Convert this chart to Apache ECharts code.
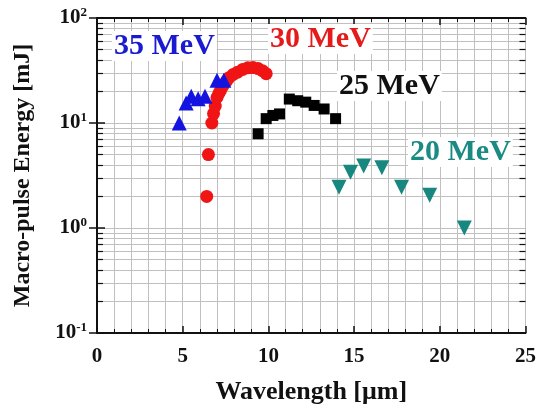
<!DOCTYPE html>
<html>
<head>
<meta charset="utf-8">
<script src="https://cdn.jsdelivr.net/npm/echarts@6/dist/echarts.min.js"></script>
<style>
  html, body { margin: 0; padding: 0; background: #fff; }
  #chart { width: 539px; height: 410px; }
</style>
</head>
<body>
<div id="chart"></div>
<script>
// Macro-pulse energy vs. wavelength for four electron beam energies
const mev35 = [[4.8, 10], [5.2, 15.5], [5.5, 18], [5.9, 17], [6.3, 18], [7.0, 25.5], [7.4, 25.5]];
const mev30 = [[6.4, 2], [6.5, 5], [6.7, 10], [6.8, 12.3], [6.9, 14.5], [7.0, 17.5], [7.1, 19],
  [7.2, 20.3], [7.35, 22.5], [7.55, 25], [7.7, 27], [7.95, 29], [8.2, 30.5], [8.5, 32.4],
  [8.8, 33.5], [9.1, 33.7], [9.4, 33], [9.65, 31.5], [9.87, 29.5]];
const mev25 = [[9.4, 7.9], [9.87, 11], [10.26, 11.8], [10.65, 12.2], [11.22, 16.9], [11.71, 16.3],
  [12.18, 15.8], [12.67, 14.7], [13.25, 13.6], [13.92, 11]];
const mev20 = [[14.12, 2.45], [14.79, 3.4], [15.56, 3.9], [16.62, 3.75], [17.77, 2.45], [19.41, 2.05], [21.43, 1.0]];

const seriesNames = ['35 MeV', '30 MeV', '25 MeV', '20 MeV'];
const xTicks = [0, 5, 10, 15, 20, 25];
const yDecades = [0.1, 1, 10, 100];

const SERIF = "'Liberation Serif', 'Times New Roman', serif";
const GRID_COLOR = '#c0c0c0';
const LABEL_FONT = "bold 30px 'Liberation Serif', 'Times New Roman', serif";

// log-spaced minor values (2..9 in every decade)
const minorVals = [];
for (let d = 0; d < yDecades.length - 1; d++) {
  for (let k = 2; k <= 9; k++) minorVals.push(+(yDecades[d] * k).toPrecision(3));
}

const gridLines = minorVals.map(v => ({ yAxis: v }));
const tickLen = 0.35;
const yTicks = [];
minorVals.forEach(v => {
  yTicks.push([{ coord: [0, v] }, { coord: [tickLen, v] }]);
  yTicks.push([{ coord: [25 - tickLen, v] }, { coord: [25, v] }]);
});

const chart = echarts.init(document.getElementById('chart'));
chart.setOption({
  animation: false,
  grid: { left: 97, right: 9, top: 18, bottom: 73 },
  xAxis: [{
    type: 'value', min: 0, max: 25, interval: 5,
    name: 'Wavelength [\u03bcm]', nameLocation: 'middle', nameGap: 46,
    nameTextStyle: { fontFamily: SERIF, fontWeight: 'bold', fontSize: 26, color: '#111' },
    axisLine: { lineStyle: { color: '#111', width: 2 } },
    axisTick: { inside: true, length: 7, lineStyle: { color: '#111', width: 1.5 } },
    minorTick: { show: true, splitNumber: 5, length: 4, lineStyle: { color: '#111' } },
    splitLine: { show: true, lineStyle: { color: GRID_COLOR, width: 1 } },
    minorSplitLine: { show: true, lineStyle: { color: GRID_COLOR, width: 1 } },
    axisLabel: { fontFamily: SERIF, fontWeight: 'bold', fontSize: 21, color: '#111', margin: 13,
      formatter: v => xTicks.includes(v) ? String(v) : '' }
  }, {
    type: 'value', min: 0, max: 25, interval: 5, position: 'top',
    axisLine: { lineStyle: { color: '#111', width: 2 } },
    axisTick: { inside: true, length: 7, lineStyle: { color: '#111', width: 1.5 } },
    minorTick: { show: true, splitNumber: 5, length: 4, lineStyle: { color: '#111' } },
    splitLine: { show: false }, axisLabel: { show: false }
  }],
  yAxis: [{
    type: 'log', min: 0.1, max: 100, logBase: 10,
    name: 'Macro-pulse Energy [mJ]', nameLocation: 'middle', nameGap: 62, nameRotate: 90,
    nameTextStyle: { fontFamily: SERIF, fontWeight: 'bold', fontSize: 24, color: '#111' },
    axisLine: { show: true, lineStyle: { color: '#111', width: 2 } },
    axisTick: { show: true, inside: true, length: 8, lineStyle: { color: '#111', width: 1.5 } },
    splitLine: { show: true, lineStyle: { color: GRID_COLOR, width: 1 } },
    axisLabel: {
      margin: 10, color: '#111',
      formatter: v => '{b|10}{s|' + Math.round(Math.log10(v)) + '}',
      rich: {
        b: { fontFamily: SERIF, fontWeight: 'bold', fontSize: 21, color: '#111' },
        s: { fontFamily: SERIF, fontWeight: 'bold', fontSize: 13, color: '#111', padding: [0, 0, 11, 0] }
      }
    }
  }, {
    type: 'log', min: 0.1, max: 100, logBase: 10, position: 'right',
    axisLine: { show: true, lineStyle: { color: '#111', width: 2 } },
    axisTick: { show: true, inside: true, length: 8, lineStyle: { color: '#111', width: 1.5 } },
    splitLine: { show: false }, axisLabel: { show: false }
  }],
  series: [
    {
      // minor log grid and minor y ticks, kept beneath the markers
      type: 'scatter', data: [], z: 0, silent: true,
      markLine: {
        silent: true, symbol: 'none', label: { show: false }, z: 0,
        lineStyle: { color: GRID_COLOR, width: 1, type: 'solid' },
        data: gridLines
      }
    },
    {
      type: 'scatter', data: [], z: 0, silent: true,
      markLine: {
        silent: true, symbol: 'none', label: { show: false }, z: 0,
        lineStyle: { color: '#111', width: 1.2, type: 'solid' },
        data: yTicks
      }
    },
    {
      name: seriesNames[3], type: 'scatter', data: mev20, symbol: 'triangle', symbolRotate: 180,
      symbolSize: 15, z: 5, itemStyle: { color: '#17877f', opacity: 1 }
    },
    {
      name: seriesNames[2], type: 'scatter', data: mev25, symbol: 'rect',
      symbolSize: 11, z: 5, itemStyle: { color: '#000', opacity: 1 }
    },
    {
      name: seriesNames[1], type: 'scatter', data: mev30, symbol: 'circle',
      symbolSize: 13, z: 5, itemStyle: { color: '#f01414', opacity: 1 }
    },
    {
      name: seriesNames[0], type: 'scatter', data: mev35, symbol: 'triangle',
      symbolSize: 15, z: 5, itemStyle: { color: '#1414e0', opacity: 1 }
    }
  ],
  graphic: [
    { type: 'text', left: 112, top: 31, z: 100, style: { text: seriesNames[0], fill: '#1a1ad0', font: LABEL_FONT, backgroundColor: '#fff', padding: [0, 2] } },
    { type: 'text', left: 268, top: 24, z: 100, style: { text: seriesNames[1], fill: '#e51b1b', font: LABEL_FONT, backgroundColor: '#fff', padding: [0, 2] } },
    { type: 'text', left: 337, top: 71, z: 100, style: { text: seriesNames[2], fill: '#111', font: LABEL_FONT, backgroundColor: '#fff', padding: [0, 2] } },
    { type: 'text', left: 408, top: 137, z: 100, style: { text: seriesNames[3], fill: '#1a8a82', font: LABEL_FONT, backgroundColor: '#fff', padding: [0, 2] } }
  ]
});
</script>
</body>
</html>
